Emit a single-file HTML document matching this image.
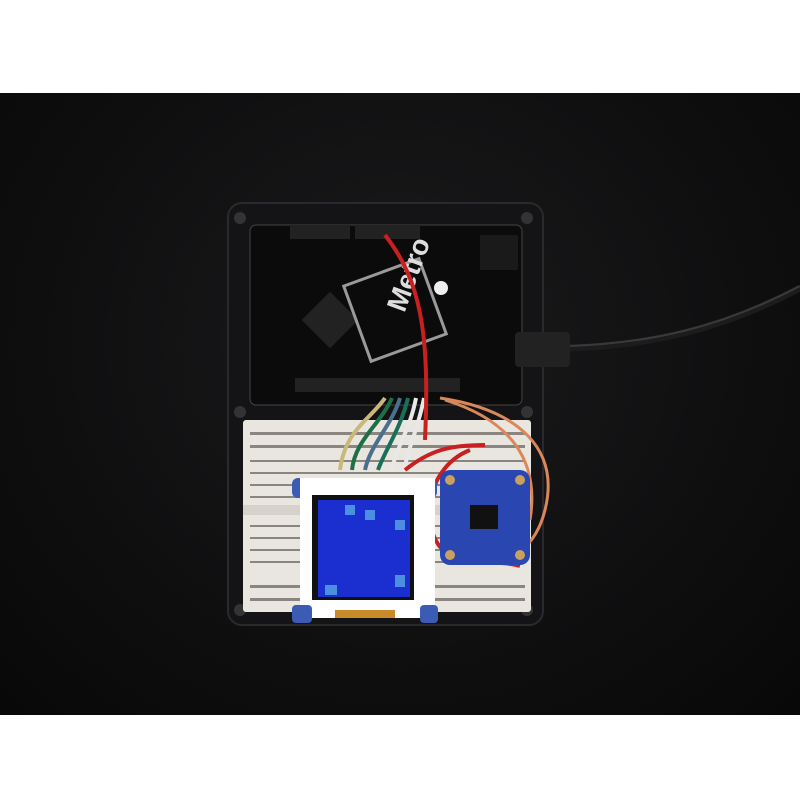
<!DOCTYPE html>
<html><head><style>
html,body{margin:0;padding:0;width:800px;height:800px;overflow:hidden;background:#fff}
.a{position:absolute}
</style></head><body>
<div class="a" style="left:0;top:0;width:800px;height:93px;background:#fff"></div>
<div class="a" style="left:0;top:93px;width:800px;height:622px;background:radial-gradient(ellipse at 50% 40%,#1b1b1d 0%,#0f0f10 60%,#080808 100%)"></div>
<div class="a" style="left:0;top:715px;width:800px;height:85px;background:#fff"></div>
<svg class="a" style="left:0;top:0" width="800" height="800">
 <!-- acrylic plate -->
 <rect x="228" y="203" width="315" height="422" rx="14" fill="#141416" stroke="#2a2a2e" stroke-width="2"/>
 <circle cx="240" cy="218" r="6" fill="#333"/><circle cx="527" cy="218" r="6" fill="#333"/>
 <circle cx="240" cy="412" r="6" fill="#333"/><circle cx="527" cy="412" r="6" fill="#333"/>
 <circle cx="240" cy="610" r="6" fill="#333"/><circle cx="527" cy="610" r="6" fill="#333"/>
 <!-- metro board -->
 <rect x="250" y="225" width="272" height="180" rx="6" fill="#0b0b0c" stroke="#444" stroke-width="1"/>
 <rect x="290" y="225" width="60" height="14" fill="#222"/>
 <rect x="355" y="225" width="65" height="14" fill="#222"/>
 <rect x="480" y="235" width="38" height="35" fill="#1a1a1a"/>
 <rect x="310" y="300" width="40" height="40" fill="#222" transform="rotate(45 330 320)"/>
 <rect x="355" y="270" width="80" height="80" fill="none" stroke="#9a9a9a" stroke-width="3" transform="rotate(-20 395 310)"/>
 <text x="395" y="320" fill="#ddd" font-family="Liberation Sans" font-size="28" font-weight="bold" transform="rotate(-70 395 310)">Metro</text>
 <circle cx="441" cy="288" r="7" fill="#eee"/>
 <rect x="295" y="378" width="165" height="14" fill="#222"/>
 <rect x="515" y="332" width="55" height="35" rx="4" fill="#222"/>
 <path d="M570 348 C650 345 720 330 800 288" stroke="#1c1c1c" stroke-width="7" fill="none"/>
 <path d="M570 346 C650 343 720 328 800 286" stroke="#3a3a3a" stroke-width="2" fill="none"/>
 <!-- breadboard -->
 <rect x="243" y="420" width="288" height="192" rx="3" fill="#e9e6e0"/>
 <rect x="243" y="505" width="288" height="10" fill="#d6d2cb"/>
 <g fill="#8a8580">
  <rect x="250" y="432" width="275" height="3"/><rect x="250" y="445" width="275" height="3"/>
  <rect x="250" y="460" width="275" height="2"/><rect x="250" y="472" width="275" height="2"/>
  <rect x="250" y="484" width="275" height="2"/><rect x="250" y="496" width="275" height="2"/>
  <rect x="250" y="525" width="275" height="2"/><rect x="250" y="537" width="275" height="2"/>
  <rect x="250" y="549" width="275" height="2"/><rect x="250" y="561" width="275" height="2"/>
  <rect x="250" y="585" width="275" height="3"/><rect x="250" y="598" width="275" height="3"/>
 </g>
 <!-- wires -->
 <g fill="none" stroke-width="4">
  <path d="M385 398 C370 420 345 430 340 470" stroke="#c8b97a"/>
  <path d="M392 398 C380 425 355 440 352 470" stroke="#1f6f46"/>
  <path d="M400 398 C392 425 370 445 365 470" stroke="#4a6f8f"/>
  <path d="M408 398 C400 430 385 450 378 470" stroke="#1a6f5a"/>
  <path d="M416 398 C410 430 395 450 392 470" stroke="#e8e8e8"/>
  <path d="M424 398 C418 430 405 455 405 470" stroke="#e8e8e8"/>
  <path d="M385 235 C420 280 430 330 425 440" stroke="#c82020"/>
  <path d="M440 398 C520 410 560 450 545 510 C535 550 510 560 490 560" stroke="#d9885a" stroke-width="3"/>
  <path d="M445 400 C510 420 540 460 530 520" stroke="#d9885a" stroke-width="3"/>
  <path d="M405 470 C430 450 450 445 485 445" stroke="#c82020"/>
  <path d="M470 450 C420 470 420 540 450 555 C470 565 500 560 520 566" stroke="#c82020"/>
 </g>
 <!-- display module -->
 <rect x="292" y="478" width="145" height="20" rx="6" fill="#3b5bb5"/>
 <rect x="300" y="478" width="135" height="140" fill="#fff"/>
 <rect x="312" y="495" width="102" height="105" fill="#111"/>
 <rect x="318" y="500" width="92" height="97" fill="#1b2fd0"/>
 <rect x="345" y="505" width="10" height="10" fill="#4a8fe0"/><rect x="365" y="510" width="10" height="10" fill="#4a8fe0"/>
 <rect x="395" y="520" width="10" height="10" fill="#4a8fe0"/><rect x="325" y="585" width="12" height="10" fill="#4a8fe0"/>
 <rect x="395" y="575" width="10" height="12" fill="#4a8fe0"/>
 <rect x="292" y="605" width="20" height="18" rx="4" fill="#3b5bb5"/><rect x="420" y="605" width="18" height="18" rx="4" fill="#3b5bb5"/>
 <rect x="335" y="610" width="60" height="8" fill="#c98a2a"/>
 <!-- sensor board -->
 <rect x="440" y="470" width="90" height="95" rx="10" fill="#2a46b0"/>
 <rect x="470" y="505" width="28" height="24" fill="#111"/>
 <circle cx="450" cy="480" r="5" fill="#c8a060"/><circle cx="520" cy="480" r="5" fill="#c8a060"/>
 <circle cx="450" cy="555" r="5" fill="#c8a060"/><circle cx="520" cy="555" r="5" fill="#c8a060"/>
</svg>
</body></html>
